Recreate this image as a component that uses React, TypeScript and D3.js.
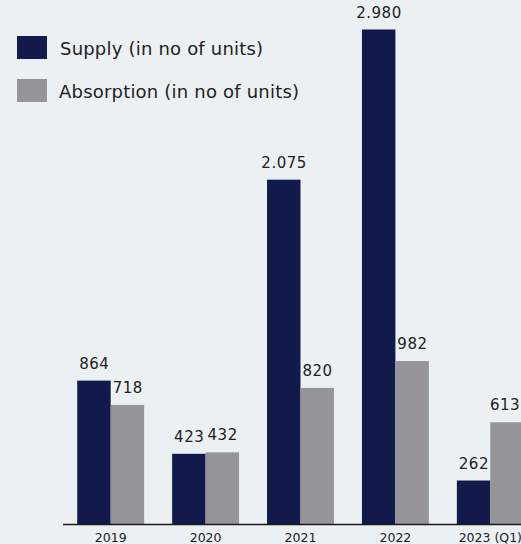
import React from "react";
import * as d3 from "d3";

const categories = ["2019", "2020", "2021", "2022", "2023 (Q1)"];
const supply = [864, 423, 2075, 2980, 262];
const absorption = [718, 432, 820, 982, 613];
const supplyLabels = ["864", "423", "2.075", "2.980", "262"];
const absorptionLabels = ["718", "432", "820", "982", "613"];
const seriesNames = ["Supply (in no of units)", "Absorption (in no of units)"];

const W = 521;
const H = 544;
const NAVY = "#111a4b";
const GREY = "#959599";
const BG = "#ebf0f3";
const FONT = "'DejaVu Sans', sans-serif";

export default function App() {
  const baseline = 524;
  const x = d3
    .scaleBand<string>()
    .domain(categories)
    .range([63, 63 + 95 * 5])
    .paddingInner(0.295)
    .paddingOuter(0.15);
  const sub = d3.scaleBand<string>().domain(["s", "a"]).range([0, x.bandwidth()]);
  const y = d3.scaleLinear().domain([0, 2980]).range([baseline, 29.5]);

  const valueText = (cx: number, top: number, label: string) => (
    <text
      x={Math.min(cx + 0.3, W - 16)}
      y={top - 12}
      textAnchor="middle"
      fontFamily={FONT}
      fontSize={15}
      letterSpacing={0.5}
      fill="#222"
    >
      {label}
    </text>
  );

  return (
    <svg
      width={W}
      height={H}
      style={{ position: "fixed", left: 0, top: 0, background: BG }}
    >
      <rect x={0} y={0} width={W} height={H} fill={BG} />
      {/* legend */}
      <rect x={17} y={36} width={30} height={23} fill={NAVY} />
      <text x={60} y={55} fontFamily={FONT} fontSize={18} letterSpacing={0.2} fill="#222">
        {seriesNames[0]}
      </text>
      <rect x={17} y={79} width={30} height={23} fill={GREY} />
      <text x={59} y={98} fontFamily={FONT} fontSize={18} letterSpacing={0.2} fill="#222">
        {seriesNames[1]}
      </text>
      {categories.map((c, i) => {
        const x0 = x(c)!;
        const xs = x0 + sub("s")!;
        const xa = x0 + sub("a")!;
        const bw = sub.bandwidth();
        return (
          <g key={c}>
            <rect x={xs} y={y(supply[i])} width={bw} height={baseline - y(supply[i])} fill={NAVY} />
            <rect x={xa} y={y(absorption[i])} width={bw} height={baseline - y(absorption[i])} fill={GREY} />
            {valueText(xs + bw / 2, y(supply[i]), supplyLabels[i])}
            {valueText(xa + bw / 2, y(absorption[i]), absorptionLabels[i])}
            <text
              x={x0 + x.bandwidth() / 2}
              y={542}
              textAnchor="middle"
              fontFamily={FONT}
              fontSize={12.5}
              fill="#222"
            >
              {c}
            </text>
          </g>
        );
      })}
      <line x1={63} x2={W + 10} y1={baseline + 0.5} y2={baseline + 0.5} stroke="#1a1a1a" strokeWidth={1.6} />
    </svg>
  );
}
